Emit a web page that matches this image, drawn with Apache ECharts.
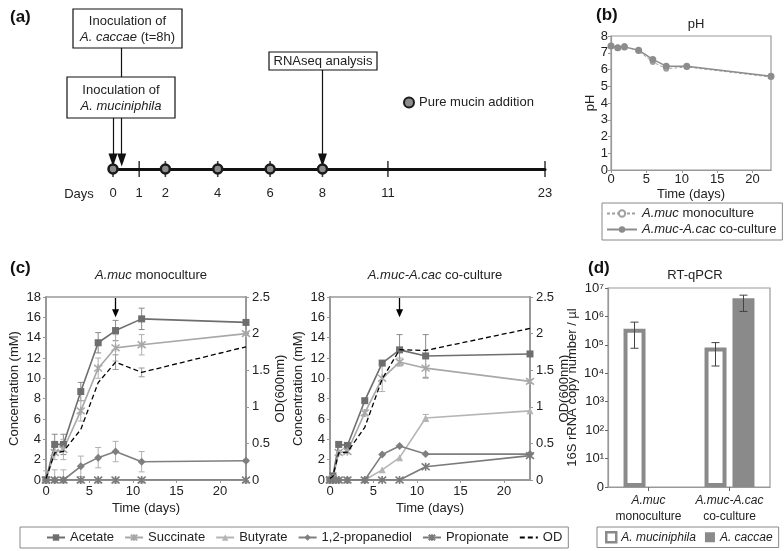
<!DOCTYPE html>
<html><head><meta charset="utf-8">
<script src="https://cdn.jsdelivr.net/npm/echarts@6/dist/echarts.min.js"></script>
<style>html,body{margin:0;padding:0;background:#fff}#c{width:784px;height:551px}</style>
</head><body><div id="c"></div>
<script>
// ---------------- data ----------------
// (a) experimental timeline
const timelineDays = [0, 1, 2, 4, 6, 8, 11, 23];
const mucinDays = [0, 2, 4, 6, 8];
const inoculationAmucDay = 0;
const inoculationAcacDay = 1 / 3;   // t = 8 h
const rnaseqDay = 8;

// (b) pH
const phDays = [0, 0.95, 1.9, 3.9, 5.9, 7.8, 10.7, 22.6];
const phMono = [7.4, 7.3, 7.4, 7.1, 6.45, 6.05, 6.15, 5.55];
const phCo = [7.4, 7.3, 7.35, 7.15, 6.6, 6.2, 6.2, 5.6];

// (c) metabolites, A.muc monoculture
const monoDays = [0, 1, 2, 4, 6, 8, 11, 23];
const monoAcetate = [0, 3.5, 3.5, 8.7, 13.5, 14.7, 15.85, 15.5];
const monoAcetateErr = [0.3, 1.0, 1.0, 0.9, 1.0, 1.0, 1.05, 0.15];
const monoSuccinate = [0, 2.7, 3.0, 6.8, 11.0, 13.0, 13.3, 14.4];
const monoSuccinateErr = [0.3, 0.7, 1.0, 1.0, 1.0, 1.3, 1.0, 0.15];
const monoButyrate = [0, 0, 0, 0, 0, 0, 0, 0];
const monoPropanediol = [0, 0, 0, 1.35, 2.2, 2.8, 1.8, 1.9];
const monoPropanediolErr = [0.9, 1.0, 1.0, 1.0, 1.0, 1.0, 1.0, 0.1];
const monoPropionate = [0, 0, 0, 0, 0, 0, 0, 0];
const monoOD = [0.02, 0.37, 0.39, 0.69, 1.33, 1.61, 1.47, 1.82];
const monoODErr = [0, 0, 0, 0, 0, 0.1, 0.06, 0];

// (c) metabolites, A.muc-A.cac co-culture
const coDays = [0, 1 / 3, 1, 2, 4, 6, 8, 11, 23];
const coAcetate = [0, 0.4, 3.5, 3.4, 7.8, 11.5, 12.8, 12.2, 12.4];
const coAcetateErr = [0, 0, 0.1, 0.1, 0.2, 0.2, 1.5, 2.1, 0.2];
const coSuccinate = [0, 0.2, 2.7, 2.8, 6.6, 10.0, 11.6, 11.0, 9.7];
const coSuccinateErr = [0, 0, 0.2, 0.2, 0.3, 1.3, 0.4, 1.0, 0.2];
const coButyrate = [0, 0, 0, 0, 0, 1.0, 2.2, 6.1, 6.8];
const coButyrateErr = [0, 0, 0, 0, 0, 0, 0, 0.35, 0];
const coPropanediol = [0, 0, 0, 0, 0, 2.5, 3.35, 2.55, 2.55];
const coPropionate = [0, 0, 0, 0, 0, 0, 0, 1.3, 2.4];
const coOD = [0.02, 0.05, 0.37, 0.38, 0.72, 1.38, 1.78, 1.77, 2.07];

// (d) RT-qPCR
const cultures = ['A.muc monoculture', 'A.muc-A.cac co-culture'];
const amucCopies = [3.7e5, 8.0e4];
const amucLow = [7.6e4, 1.8e4];
const amucHigh = [6.3e5, 1.2e5];
const acacCopies = [null, 4.4e6];
const acacLow = [null, 1.5e6];
const acacHigh = [null, 5.6e6];

// ---------------- chart ----------------
const FONT = 'Liberation Sans, Arial, Helvetica, sans-serif';
const TXT = '#222';
const AX = '#999';
// schematic (broken) time scale of the timeline
const sch = d => d <= 8 ? d : (d <= 11 ? 8 + (d - 8) * 5 / 6 : 10.5 + (d - 11) * 0.5);
const italicFirst = s => { const k = s.indexOf(' '); return '{i|' + s.slice(0, k) + '}' + s.slice(k); };
const richI = fs => ({ i: { fontStyle: 'italic', fontFamily: FONT, fontSize: fs, color: TXT } });

const pairs = (xs, ys) => xs.map((x, i) => [x, ys[i]]);

function errBars(xIdx, yIdx, xs, vs, es, color) {
  const data = [];
  xs.forEach((x, i) => { if (es[i] > 0 && vs[i] != null) data.push([x, Math.max(0, vs[i] - es[i]), vs[i] + es[i]]); });
  return {
    type: 'custom', xAxisIndex: xIdx, yAxisIndex: yIdx, silent: true, z: 1,
    encode: { x: 0, y: [1, 2] }, data,
    renderItem: (p, api) => {
      const x = api.value(0);
      const lo = api.coord([x, api.value(1)]), hi = api.coord([x, api.value(2)]);
      const w = 3, st = { stroke: color, lineWidth: 1 };
      return { type: 'group', children: [
        { type: 'line', shape: { x1: lo[0], y1: lo[1], x2: hi[0], y2: hi[1] }, style: st },
        { type: 'line', shape: { x1: lo[0] - w, y1: lo[1], x2: lo[0] + w, y2: lo[1] }, style: st },
        { type: 'line', shape: { x1: hi[0] - w, y1: hi[1], x2: hi[0] + w, y2: hi[1] }, style: st }
      ] };
    }
  };
}

const STAR = 'path://M0,0L10,10M10,0L0,10M5,-1L5,11';
const SER = {
  'Acetate': { color: '#6e6e6e', symbol: 'rect', size: 7 },
  'Succinate': { color: '#a8a8a8', symbol: STAR, size: 8 },
  'Butyrate': { color: '#b5b5b5', symbol: 'triangle', size: 7 },
  '1,2-propanediol': { color: '#7f7f7f', symbol: 'diamond', size: 8 },
  'Propionate': { color: '#7a7a7a', symbol: STAR, size: 8 }
};
function metLine(name, xIdx, yIdx, xs, ys) {
  const s = SER[name];
  const star = s.symbol === STAR;
  return {
    type: 'line', name, xAxisIndex: xIdx, yAxisIndex: yIdx, data: pairs(xs, ys),
    symbol: s.symbol, symbolSize: s.size, showSymbol: true,
    lineStyle: { color: s.color, width: 1.6 },
    itemStyle: star ? { color: s.color, borderColor: s.color, borderWidth: 1.6 } : { color: s.color, borderWidth: 0 },
    z: 3
  };
}
function odLine(xIdx, yIdx, xs, ys) {
  return { type: 'line', name: 'OD', xAxisIndex: xIdx, yAxisIndex: yIdx, data: pairs(xs, ys),
    symbol: 'none', lineStyle: { color: '#000', width: 1.3, type: [5, 3] }, itemStyle: { color: '#000' }, z: 4 };
}
function arrowMark(day) {
  return { silent: true, symbol: ['none', 'triangle'], symbolSize: [7, 8], label: { show: false },
    lineStyle: { color: '#000', width: 1.3, type: 'solid' },
    data: [[{ coord: [day, 17.9] }, { coord: [day, 16.4] }]] };
}

const cAxisLabel = { fontSize: 13, color: TXT, fontFamily: FONT };
function cX(grid) {
  return { gridIndex: grid, type: 'value', min: 0, max: 23, interval: 5,
    axisLine: { show: true, onZero: false, lineStyle: { color: AX, width: 2 } },
    axisTick: { show: true, length: 3, lineStyle: { color: AX } }, splitLine: { show: false },
    axisLabel: Object.assign({ margin: 5, showMaxLabel: false }, cAxisLabel),
    name: 'Time (days)', nameLocation: 'middle', nameGap: 22,
    nameTextStyle: { fontSize: 13, color: TXT, fontFamily: FONT } };
}
function cYL(grid) {
  return { gridIndex: grid, type: 'value', min: 0, max: 18, interval: 2, position: 'left',
    axisLine: { show: true, lineStyle: { color: AX, width: 2 } },
    axisTick: { show: true, length: 3, lineStyle: { color: AX } }, splitLine: { show: false },
    axisLabel: Object.assign({ margin: 5 }, cAxisLabel),
    name: 'Concentration (mM)', nameLocation: 'middle', nameGap: 25, nameRotate: 90,
    nameTextStyle: { fontSize: 13, color: TXT, fontFamily: FONT } };
}
function cYR(grid) {
  return { gridIndex: grid, type: 'value', min: 0, max: 2.5, interval: 0.5, position: 'right',
    axisLine: { show: true, lineStyle: { color: AX, width: 2 } },
    axisTick: { show: true, length: 3, lineStyle: { color: AX } }, splitLine: { show: false },
    axisLabel: Object.assign({ margin: 6 }, cAxisLabel),
    name: 'OD(600nm)', nameLocation: 'middle', nameGap: 28, nameRotate: 90,
    nameTextStyle: { fontSize: 13, color: TXT, fontFamily: FONT } };
}

const SUP = { 0: '\u2070', 1: '\u00B9', 2: '\u00B2', 3: '\u00B3', 4: '\u2074', 5: '\u2075', 6: '\u2076', 7: '\u2077' };
const BOLD17 = { fontSize: 17, fontWeight: 'bold', color: '#111', fontFamily: FONT };
const NORM13 = { fontSize: 13, fontWeight: 'normal', color: TXT, fontFamily: FONT };

const option = {
  animation: false,
  textStyle: { fontFamily: FONT, color: TXT },
  title: [
    { text: '(a)', left: 5, top: 4, textStyle: BOLD17 },
    { text: '(b)', left: 591, top: 2, textStyle: BOLD17 },
    { text: 'pH', left: 691, top: 13, textAlign: 'center', textStyle: NORM13 },
    { text: '(c)', left: 5, top: 255, textStyle: BOLD17 },
    { text: italicFirst(cultures[0]), left: 146, top: 264, textAlign: 'center', textStyle: Object.assign({ rich: richI(13) }, NORM13) },
    { text: italicFirst(cultures[1]), left: 430, top: 264, textAlign: 'center', textStyle: Object.assign({ rich: richI(13) }, NORM13) },
    { text: '(d)', left: 583, top: 255, textStyle: BOLD17 },
    { text: 'RT-qPCR', left: 690, top: 264, textAlign: 'center', textStyle: NORM13 }
  ],
  grid: [
    { left: 113, top: 9, width: 432, height: 160 },                 // 0 timeline
    { left: 611, top: 36, width: 160, height: 134, show: true, borderColor: AX, borderWidth: 1.2 }, // 1 pH
    { left: 46, top: 297, width: 200, height: 183, show: true, borderColor: AX, borderWidth: 1.5 }, // 2 mono
    { left: 330, top: 297, width: 200, height: 183, show: true, borderColor: AX, borderWidth: 1.5 }, // 3 co
    { left: 608, top: 288, width: 162, height: 199, show: true, borderColor: AX, borderWidth: 1.2 }  // 4 qPCR
  ],
  xAxis: [
    { gridIndex: 0, type: 'value', min: 0, max: sch(23),
      axisLine: { show: true, onZero: false, lineStyle: { color: '#111', width: 3 } },
      axisTick: { show: false }, splitLine: { show: false },
      axisLabel: { customValues: timelineDays.map(sch), margin: 18, fontSize: 13, color: TXT, fontFamily: FONT,
        formatter: v => { const d = timelineDays.find(t => Math.abs(sch(t) - v) < 1e-6); return d === undefined ? '' : String(d); } } },
    { gridIndex: 1, type: 'value', min: 0, max: 22.6, interval: 5,
      axisLine: { show: true, onZero: false, lineStyle: { color: AX, width: 1.2 } },
      axisTick: { show: true, length: 3, lineStyle: { color: AX } }, splitLine: { show: false },
      axisLabel: { margin: 3, fontSize: 13, color: TXT, fontFamily: FONT, showMaxLabel: false },
      name: 'Time (days)', nameLocation: 'middle', nameGap: 18, nameTextStyle: { fontSize: 13, color: TXT, fontFamily: FONT } },
    cX(2), cX(3),
    { gridIndex: 4, type: 'category', data: cultures,
      axisLine: { show: true, lineStyle: { color: AX, width: 1.2 } },
      axisTick: { show: true, alignWithLabel: true, length: 4, lineStyle: { color: '#666' } },
      axisLabel: { margin: 6, fontSize: 12, color: TXT, fontFamily: FONT, lineHeight: 16, interval: 0,
        formatter: v => { const k = v.indexOf(' '); return '{i|' + v.slice(0, k) + '}\n' + v.slice(k + 1); },
        rich: { i: { fontStyle: 'italic', fontSize: 12, fontFamily: FONT, color: TXT, lineHeight: 16 } } } }
  ],
  yAxis: [
    { gridIndex: 0, type: 'value', min: 0, max: 160, show: false },
    { gridIndex: 1, type: 'value', min: 0, max: 8, interval: 1,
      axisLine: { show: true, lineStyle: { color: AX, width: 1.2 } },
      axisTick: { show: true, length: 3, lineStyle: { color: AX } }, splitLine: { show: false },
      axisLabel: { margin: 3, fontSize: 13, color: TXT, fontFamily: FONT },
      name: 'pH', nameLocation: 'middle', nameGap: 14, nameRotate: 90, nameTextStyle: { fontSize: 13, color: TXT, fontFamily: FONT } },
    cYL(2), cYR(2), cYL(3), cYR(3),
    { gridIndex: 4, type: 'log', logBase: 10, min: 1, max: 1e7,
      axisLine: { show: true, lineStyle: { color: AX, width: 1.2 } },
      axisTick: { show: true, length: 3, lineStyle: { color: '#666' } }, splitLine: { show: false },
      axisLabel: { margin: 4, fontSize: 13, color: TXT, fontFamily: FONT,
        formatter: v => v <= 1 ? '0' : '10' + SUP[Math.round(Math.log10(v))] },
      name: '16S rRNA copy number / \u00B5l', nameLocation: 'middle', nameGap: 29, nameRotate: 90,
      nameTextStyle: { fontSize: 13, color: TXT, fontFamily: FONT } }
  ],
  legend: [
    { left: 398, top: 91, data: ['Pure mucin addition'], icon: 'circle', itemWidth: 10, itemHeight: 10,
      textStyle: { fontSize: 13, color: TXT, fontFamily: FONT }, selectedMode: false },
    { left: 602, top: 203, orient: 'vertical', data: ['A.muc monoculture', 'A.muc-A.cac co-culture'],
      itemWidth: 30, itemHeight: 8, itemGap: 3, padding: [4, 6, 4, 4], borderColor: '#888', borderWidth: 1,
      formatter: italicFirst, textStyle: { fontSize: 13, color: TXT, fontFamily: FONT, rich: richI(13) }, selectedMode: false },
    { left: 20, top: 527, width: 560,
      data: ['Acetate', 'Succinate', 'Butyrate', '1,2-propanediol', 'Propionate',
        { name: 'OD', itemStyle: { color: 'rgba(0,0,0,0)', borderWidth: 0, borderColor: 'rgba(0,0,0,0)' } }],
      itemWidth: 18, itemHeight: 8, itemGap: 10, padding: [4, 6, 4, 26], borderColor: '#888', borderWidth: 1,
      textStyle: { fontSize: 13, color: TXT, fontFamily: FONT }, selectedMode: false },
    { left: 597, top: 527, width: 186, data: [{ name: 'A. muciniphila', itemStyle: { borderWidth: 2.5 } }, 'A. caccae'],
      icon: 'rect', itemWidth: 10, itemHeight: 10, itemGap: 9, padding: [4, 6, 4, 8], borderColor: '#888', borderWidth: 1,
      formatter: n => '{i|' + n + '}',
      textStyle: { fontSize: 12, color: TXT, fontFamily: FONT, rich: richI(12) }, selectedMode: false }
  ],
  graphic: [
    { type: 'rect', shape: { x: 73, y: 9, width: 109, height: 39 }, style: { fill: '#fff', stroke: '#111', lineWidth: 1.2 }, z: 100 },
    { type: 'text', x: 127.5, y: 29, z: 101, style: { text: 'Inoculation of\n{i|A. caccae} (t=8h)', align: 'center', verticalAlign: 'middle',
      fontSize: 13, lineHeight: 16, fontFamily: FONT, fill: TXT, rich: { i: { fontStyle: 'italic', fontSize: 13, fontFamily: FONT, fill: TXT } } } },
    { type: 'rect', shape: { x: 67, y: 77, width: 108, height: 41 }, style: { fill: '#fff', stroke: '#111', lineWidth: 1.2 }, z: 100 },
    { type: 'text', x: 121, y: 98, z: 101, style: { text: 'Inoculation of\n{i|A. muciniphila}', align: 'center', verticalAlign: 'middle',
      fontSize: 13, lineHeight: 16, fontFamily: FONT, fill: TXT, rich: { i: { fontStyle: 'italic', fontSize: 13, fontFamily: FONT, fill: TXT } } } },
    { type: 'rect', shape: { x: 269, y: 52, width: 108, height: 18 }, style: { fill: '#fff', stroke: '#111', lineWidth: 1.2 }, z: 100 },
    { type: 'text', x: 323, y: 61, z: 101, style: { text: 'RNAseq analysis', align: 'center', verticalAlign: 'middle',
      fontSize: 13, fontFamily: FONT, fill: TXT } },
    { type: 'text', x: 79, y: 194, z: 101, style: { text: 'Days', align: 'center', verticalAlign: 'middle', fontSize: 13, fontFamily: FONT, fill: TXT } }
  ],
  series: [
    // (a) timeline
    { type: 'scatter', name: 'ticks', xAxisIndex: 0, yAxisIndex: 0, silent: true, z: 3,
      data: timelineDays.map(d => [sch(d), 0]), symbol: 'rect', symbolSize: [1.6, 16], itemStyle: { color: '#111' } },
    { type: 'scatter', name: 'Pure mucin addition', xAxisIndex: 0, yAxisIndex: 0, z: 5, silent: true,
      data: mucinDays.map(d => [sch(d), 0]), symbolSize: 9,
      itemStyle: { color: '#8c8c8c', borderColor: '#1a1a1a', borderWidth: 2.5, opacity: 1 },
      markLine: { silent: true, symbol: ['none', 'triangle'], symbolSize: [9, 13], label: { show: false },
        lineStyle: { color: '#111', width: 1.2, type: 'solid' },
        data: [
          [{ coord: [sch(inoculationAmucDay), 169 - 118] }, { coord: [sch(inoculationAmucDay), 9] }],
          [{ coord: [sch(inoculationAcacDay), 169 - 48] }, { coord: [sch(inoculationAcacDay), 9] }],
          [{ coord: [sch(rnaseqDay), 169 - 70] }, { coord: [sch(rnaseqDay), 9] }]
        ] } },
    // (b) pH
    { type: 'line', name: 'A.muc-A.cac co-culture', xAxisIndex: 1, yAxisIndex: 1, data: pairs(phDays, phCo),
      symbol: 'circle', symbolSize: 7, lineStyle: { color: '#8c8c8c', width: 1.5 }, itemStyle: { color: '#8c8c8c' }, z: 4 },
    { type: 'line', name: 'A.muc monoculture', xAxisIndex: 1, yAxisIndex: 1, data: pairs(phDays, phMono),
      symbol: 'emptyCircle', symbolSize: 4, lineStyle: { color: '#a0a0a0', width: 1, type: [3, 2] },
      itemStyle: { color: '#a0a0a0', borderColor: '#a0a0a0', borderWidth: 1 }, z: 3 },
    // (c) monoculture
    errBars(2, 2, monoDays, monoAcetate, monoAcetateErr, '#8a8a8a'),
    errBars(2, 2, monoDays, monoSuccinate, monoSuccinateErr, '#b0b0b0'),
    errBars(2, 2, monoDays, monoPropanediol, monoPropanediolErr, '#b0b0b0'),
    errBars(2, 3, monoDays, monoOD, monoODErr, '#999'),
    Object.assign(metLine('Acetate', 2, 2, monoDays, monoAcetate), { markLine: arrowMark(rnaseqDay) }),
    metLine('Succinate', 2, 2, monoDays, monoSuccinate),
    metLine('Butyrate', 2, 2, monoDays, monoButyrate),
    metLine('1,2-propanediol', 2, 2, monoDays, monoPropanediol),
    metLine('Propionate', 2, 2, monoDays, monoPropionate),
    odLine(2, 3, monoDays, monoOD),
    // (c) co-culture
    errBars(3, 4, coDays, coAcetate, coAcetateErr, '#8a8a8a'),
    errBars(3, 4, coDays, coSuccinate, coSuccinateErr, '#b0b0b0'),
    errBars(3, 4, coDays, coButyrate, coButyrateErr, '#b0b0b0'),
    Object.assign(metLine('Acetate', 3, 4, coDays, coAcetate), { markLine: arrowMark(rnaseqDay) }),
    metLine('Succinate', 3, 4, coDays, coSuccinate),
    metLine('Butyrate', 3, 4, coDays, coButyrate),
    metLine('1,2-propanediol', 3, 4, coDays, coPropanediol),
    metLine('Propionate', 3, 4, coDays, coPropionate),
    odLine(3, 5, coDays, coOD),
    // (d) RT-qPCR
    { type: 'bar', name: 'A. muciniphila', xAxisIndex: 4, yAxisIndex: 6, data: amucCopies, barWidth: 22, barGap: '27%',
      itemStyle: { color: '#fff', borderColor: '#8a8a8a', borderWidth: 4 }, z: 2 },
    { type: 'bar', name: 'A. caccae', xAxisIndex: 4, yAxisIndex: 6, data: acacCopies.map(v => v == null ? '-' : v), barWidth: 22,
      itemStyle: { color: '#8a8a8a' }, z: 2 },
    { type: 'custom', xAxisIndex: 4, yAxisIndex: 6, silent: true, z: 5,
      data: cultures.flatMap((c, i) => {
        const out = [];
        if (amucCopies[i] != null) out.push([i, amucLow[i], amucHigh[i], -1]);
        if (acacCopies[i] != null) out.push([i, acacLow[i], acacHigh[i], 1]);
        return out;
      }),
      encode: { x: 0, y: [1, 2] },
      renderItem: (p, api) => {
        const i = api.value(0), side = api.value(3);
        const off = side * 14;
        const lo = api.coord([i, api.value(1)]), hi = api.coord([i, api.value(2)]);
        const x = lo[0] + off, w = 4, st = { stroke: '#444', lineWidth: 1 };
        return { type: 'group', children: [
          { type: 'line', shape: { x1: x, y1: lo[1], x2: x, y2: hi[1] }, style: st },
          { type: 'line', shape: { x1: x - w, y1: lo[1], x2: x + w, y2: lo[1] }, style: st },
          { type: 'line', shape: { x1: x - w, y1: hi[1], x2: x + w, y2: hi[1] }, style: st }
        ] };
      } }
  ]
};

const chart = echarts.init(document.getElementById('c'), null, { renderer: 'canvas' });
chart.setOption(option);
</script></body></html>
